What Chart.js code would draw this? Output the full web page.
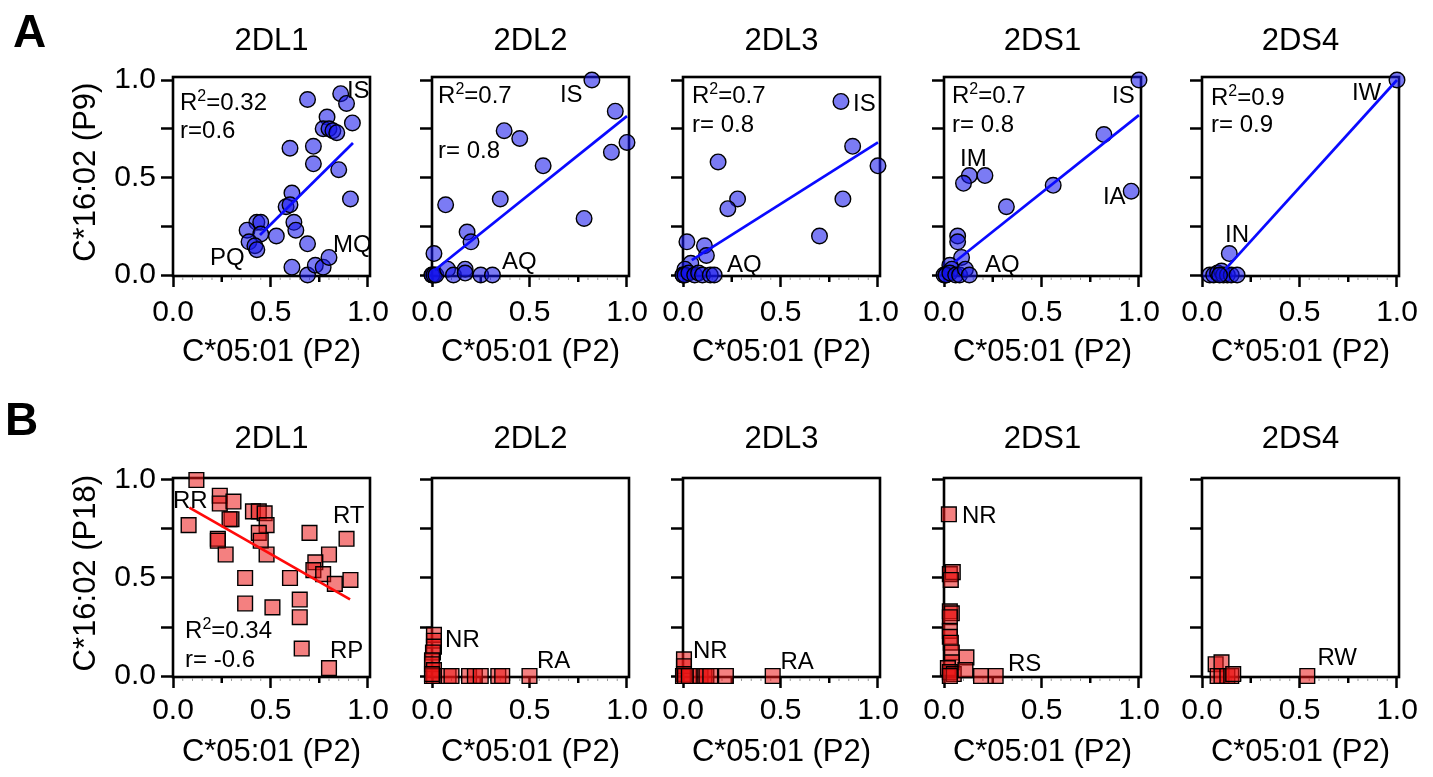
<!DOCTYPE html>
<html>
<head>
<meta charset="utf-8">
<script src="https://cdn.jsdelivr.net/npm/chart.js@4.4.1/dist/chart.umd.min.js"></script>
<style>
  html, body { margin: 0; padding: 0; background: #fff; }
  #wrap { position: relative; width: 1433px; height: 777px; overflow: hidden; background: #fff; }
  #wrap canvas { position: absolute; left: 0; top: 0; }
</style>
</head>
<body>
<div id="wrap"></div>
<script>
/* ---- data ---- */
const receptors = ["2DL1", "2DL2", "2DL3", "2DS1", "2DS4"];
const tickValues = [0, 0.25, 0.5, 0.75, 1.0];
const labeledTicks = [0, 0.5, 1.0];
const xTitle = "C*05:01 (P2)";
const yTitles = [" C*16:02 (P9)", " C*16:02 (P18)"];
const rowLetters = ["A", "B"];

// row A (P9) - blue circles
const a2DL1 = [[0.69,0.90],[0.86,0.93],[0.89,0.88],[0.92,0.78],[0.79,0.81],[0.77,0.75],[0.80,0.75],[0.82,0.74],[0.84,0.73],
  [0.60,0.65],[0.72,0.66],[0.72,0.57],[0.85,0.54],[0.91,0.39],[0.61,0.42],[0.58,0.35],[0.60,0.36],[0.62,0.27],
  [0.63,0.23],[0.53,0.20],[0.69,0.16],[0.43,0.27],[0.45,0.27],[0.38,0.23],[0.45,0.21],[0.39,0.17],[0.42,0.15],
  [0.43,0.13],[0.61,0.04],[0.69,0.00],[0.73,0.05],[0.77,0.04],[0.80,0.09]];
const a2DL2 = [[0.82,1.00],[0.94,0.84],[1.00,0.68],[0.92,0.63],[0.37,0.74],[0.45,0.70],[0.57,0.56],[0.07,0.36],
  [0.35,0.39],[0.78,0.29],[0.18,0.22],[0.20,0.17],[0.01,0.11],[0.0,0.0],[0.0,0.0],[0.01,0.0],[0.02,0.0],
  [0.08,0.03],[0.11,0.0],[0.17,0.03],[0.17,0.01],[0.25,0.0],[0.31,0.0]];
const a2DL3 = [[0.81,0.89],[0.87,0.66],[1.00,0.56],[0.82,0.39],[0.70,0.20],[0.18,0.58],[0.28,0.39],[0.23,0.34],
  [0.02,0.17],[0.11,0.15],[0.12,0.10],[0.04,0.06],[0.01,0.03],[0.0,0.0],[0.0,0.0],[0.01,0.0],[0.03,0.01],
  [0.06,0.0],[0.08,0.01],[0.10,0.0],[0.14,0.0],[0.16,0.0]];
const a2DS1 = [[1.00,1.00],[0.82,0.72],[0.96,0.43],[0.56,0.46],[0.32,0.35],[0.13,0.51],[0.21,0.51],[0.10,0.47],
  [0.07,0.20],[0.07,0.17],[0.09,0.09],[0.03,0.05],[0.04,0.03],[0.0,0.0],[0.01,0.0],[0.01,0.0],[0.03,0.01],
  [0.06,0.0],[0.08,0.0],[0.11,0.03],[0.13,0.0]];
const a2DS4 = [[1.00,1.00],[0.14,0.11],[0.04,0.0],[0.06,0.0],[0.08,0.01],[0.10,0.02],[0.11,0.0],[0.13,0.0],
  [0.15,0.0],[0.18,0.0],[0.09,0.0]];

// row B (P18) - red squares
const b2DL1 = [[0.12,1.00],[0.24,0.92],[0.24,0.88],[0.31,0.89],[0.30,0.80],[0.29,0.80],[0.08,0.77],[0.23,0.70],
  [0.23,0.69],[0.27,0.62],[0.41,0.84],[0.44,0.84],[0.47,0.83],[0.48,0.77],[0.44,0.73],[0.45,0.69],[0.48,0.62],
  [0.70,0.73],[0.89,0.70],[0.80,0.62],[0.73,0.58],[0.72,0.54],[0.77,0.52],[0.83,0.47],[0.91,0.49],[0.60,0.50],
  [0.37,0.50],[0.37,0.37],[0.51,0.35],[0.65,0.39],[0.65,0.30],[0.66,0.14],[0.80,0.04]];
const b2DL2 = [[0.01,0.21],[0.01,0.18],[0.01,0.15],[0.005,0.12],[0.0,0.08],[0.0,0.06],[0.01,0.03],[0.01,0.0],
  [0.0,0.0],[0.0,0.01],[0.085,0.0],[0.10,0.0],[0.19,0.0],[0.22,0.0],[0.25,0.0],[0.34,0.0],[0.36,0.0],[0.50,0.0]];
const b2DL3 = [[0.005,0.085],[0.005,0.05],[0.005,0.01],[0.0,0.0],[0.01,0.0],[0.03,0.0],[0.09,0.0],[0.11,0.0],
  [0.12,0.0],[0.14,0.0],[0.22,0.0],[0.46,0.0]];
const b2DS1 = [[0.025,0.825],[0.03,0.52],[0.045,0.53],[0.035,0.49],[0.03,0.33],[0.04,0.32],[0.03,0.30],[0.03,0.23],
  [0.03,0.20],[0.035,0.17],[0.04,0.12],[0.115,0.095],[0.04,0.07],[0.02,0.04],[0.03,0.02],[0.05,0.01],[0.11,0.03],
  [0.19,0.0],[0.265,0.0],[0.03,0.0]];
const b2DS4 = [[0.07,0.06],[0.10,0.07],[0.08,0.0],[0.10,0.0],[0.13,0.0],[0.15,0.0],[0.16,0.01],[0.54,0.0]];

// regression lines (end points)
const fitA = [[[0.446,0.205],[0.923,0.677]], [[0.015,0.026],[1.0,0.815]], [[0.045,0.076],[1.0,0.68]],
  [[0.056,0.068],[1.0,0.82]], [[0.12,0.03],[1.0,1.0]]];
const fitB = [[[0.084,0.859],[0.908,0.391]], null, null, null, null];

// stats text and point labels, placed in data units (left edge, baseline)
const notesA = [
  [{t:"R2=0.32",x:0.036,y:0.846},{t:"r=0.6",x:0.036,y:0.703},{t:"IS",x:0.892,y:0.908},{t:"PQ",x:0.19,y:0.05},{t:"MQ",x:0.82,y:0.118}],
  [{t:"R2=0.7",x:0.031,y:0.882},{t:"r= 0.8",x:0.031,y:0.60},{t:"IS",x:0.656,y:0.887},{t:"AQ",x:0.359,y:0.031}],
  [{t:"R2=0.7",x:0.046,y:0.882},{t:"r= 0.8",x:0.046,y:0.733},{t:"IS",x:0.872,y:0.841},{t:"AQ",x:0.226,y:0.015}],
  [{t:"R2=0.7",x:0.041,y:0.882},{t:"r= 0.8",x:0.041,y:0.733},{t:"IS",x:0.862,y:0.882},{t:"IM",x:0.082,y:0.559},{t:"IA",x:0.815,y:0.364},{t:"AQ",x:0.210,y:0.015}],
  [{t:"R2=0.9",x:0.046,y:0.872},{t:"r= 0.9",x:0.046,y:0.733},{t:"IW",x:0.769,y:0.897},{t:"IN",x:0.118,y:0.169}]
];
const notesB = [
  [{t:"RR",x:0.0,y:0.857},{t:"RT",x:0.82,y:0.781},{t:"R2=0.34",x:0.062,y:0.194},{t:"r= -0.6",x:0.062,y:0.046},{t:"RP",x:0.805,y:0.092}],
  [{t:"NR",x:0.067,y:0.148},{t:"RA",x:0.538,y:0.041}],
  [{t:"NR",x:0.051,y:0.092},{t:"RA",x:0.50,y:0.036}],
  [{t:"NR",x:0.092,y:0.781},{t:"RS",x:0.328,y:0.026}],
  [{t:"RW",x:0.592,y:0.056}]
];

/* ---- layout ---- */
const FONT = "'Liberation Sans', Arial, Helvetica, sans-serif";
const colLeft = [173, 432, 683, 944, 1202];
const plotW = 197;
const rows = [
  { top: 77, bottom: 276, boxBottom: 380, titleBase: 50, yMax: 1.0154, xPad: 8, letterX: 13, letterBase: 47,
    color: "rgba(20,20,235,0.56)", line: "#0a0aff", style: "circle", radius: 7.8,
    sets: [a2DL1, a2DL2, a2DL3, a2DS1, a2DS4], fits: fitA, notes: notesA },
  { top: 478, bottom: 677, boxBottom: 777, titleBase: 448, yMax: 1.0102, xPad: 5, letterX: 5, letterBase: 435,
    color: "rgba(235,20,20,0.54)", line: "#ff0a0a", style: "rect", radius: 10.4,
    sets: [b2DL1, b2DL2, b2DL3, b2DS1, b2DS4], fits: fitB, notes: notesB }
];

const wrap = document.getElementById("wrap");

const deco = {
    id: "deco",
    beforeDatasetsDraw(chart, args, opts) {
        const { ctx, chartArea: a, scales } = chart;
        ctx.save();
        // frame
        ctx.strokeStyle = "#000";
        ctx.lineWidth = 2.6;
        ctx.strokeRect(a.left, a.top, a.right - a.left, a.bottom - a.top);
        // tiny x ticks every 0.05
        ctx.strokeStyle = "#999";
        ctx.lineWidth = 1;
        for (let i = 1; i < 20; i++) {
            if (i % 5 === 0) continue;
            const px = scales.x.getPixelForValue(i * 0.05);
            ctx.beginPath();
            ctx.moveTo(px, a.bottom + 1);
            ctx.lineTo(px, a.bottom + 4);
            ctx.stroke();
        }
        // minor x ticks at 0.25 / 0.75
        ctx.strokeStyle = "#000";
        ctx.lineWidth = 2.5;
        [0.25, 0.75].forEach(v => {
            const px = scales.x.getPixelForValue(v);
            ctx.beginPath();
            ctx.moveTo(px, a.bottom);
            ctx.lineTo(px, a.bottom + 6);
            ctx.stroke();
        });
        ctx.restore();
    },
    afterDraw(chart, args, opts) {
        const { ctx, chartArea: a, scales } = chart;
        ctx.save();
        ctx.fillStyle = "#000";
        ctx.textBaseline = "alphabetic";
        // panel title
        ctx.font = "31px " + FONT;
        ctx.textAlign = "center";
        ctx.fillText(opts.title, (a.left + a.right) / 2, opts.titleBase);
        // row letter
        if (opts.letter) {
            ctx.font = "bold 46px " + FONT;
            ctx.textAlign = "left";
            ctx.fillText(opts.letter, opts.letterX, opts.letterBase);
        }
        // notes
        ctx.textAlign = "left";
        opts.notes.forEach(n => {
            let x = scales.x.getPixelForValue(n.x);
            const y = scales.y.getPixelForValue(n.y);
            ctx.font = "24px " + FONT;
            if (n.t.startsWith("R2")) {
                ctx.fillText("R", x, y);
                x += ctx.measureText("R").width;
                ctx.font = "16px " + FONT;
                ctx.fillText("2", x, y - 9);
                x += ctx.measureText("2").width;
                ctx.font = "24px " + FONT;
                ctx.fillText(n.t.slice(2), x, y);
            } else {
                ctx.fillText(n.t, x, y);
            }
        });
        ctx.restore();
    }
};

function makePanel(rowIdx, col) {
    const r = rows[rowIdx];
    const left = colLeft[col];
    const canvas = document.createElement("canvas");
    canvas.width = 1433;
    canvas.height = 777;
    wrap.appendChild(canvas);

    const datasets = [{
        data: r.sets[col].map(p => ({ x: p[0], y: p[1] })),
        pointStyle: r.style,
        pointRadius: r.radius,
        pointHoverRadius: r.radius,
        backgroundColor: r.color,
        borderColor: "#000",
        borderWidth: 1.4,
        clip: false,
        order: 1
    }];
    if (r.fits[col]) {
        datasets.push({
            data: r.fits[col].map(p => ({ x: p[0], y: p[1] })),
            showLine: true,
            pointRadius: 0,
            borderColor: r.line,
            borderWidth: 2.7,
            order: 0
        });
    }

    new Chart(canvas, {
        type: "scatter",
        data: { datasets },
        options: {
            responsive: false,
            animation: false,
            devicePixelRatio: 1,
            events: [],
            layout: { padding: { left: 0, top: r.top, right: 1433 - left - plotW, bottom: 777 - r.boxBottom } },
            plugins: {
                legend: { display: false },
                tooltip: { enabled: false },
                deco: {
                    title: receptors[col],
                    titleBase: r.titleBase,
                    letter: col === 0 ? rowLetters[rowIdx] : null,
                    letterX: r.letterX,
                    letterBase: r.letterBase,
                    notes: r.notes[col]
                }
            },
            scales: {
                x: {
                    type: "linear",
                    min: 0,
                    max: 1.0103,
                    afterBuildTicks: s => { s.ticks = labeledTicks.map(v => ({ value: v })); },
                    afterFit: s => { s.height = r.boxBottom - r.bottom; },
                    border: { display: false },
                    grid: { drawOnChartArea: false, drawTicks: true, tickLength: 11, tickColor: "#000", tickWidth: 2.5 },
                    ticks: { color: "#000", padding: r.xPad, maxRotation: 0, font: { family: FONT, size: 30 },
                             callback: v => v.toFixed(1) },
                    title: { display: true, text: xTitle, color: "#000", font: { family: FONT, size: 31 },
                             padding: { top: 0, bottom: rowIdx === 0 ? 9 : 6 } }
                },
                y: {
                    type: "linear",
                    min: -0.0051,
                    max: r.yMax,
                    afterBuildTicks: s => { s.ticks = tickValues.map(v => ({ value: v })); },
                    afterFit: s => { s.width = left; },
                    border: { display: false },
                    grid: { drawOnChartArea: false, drawTicks: true, tickLength: 12, tickColor: "#000", tickWidth: 2.5 },
                    ticks: { color: "#000", padding: 5, font: { family: FONT, size: 30 },
                             callback: v => (col === 0 && labeledTicks.includes(v)) ? v.toFixed(1) : "" },
                    title: { display: col === 0, text: yTitles[rowIdx], color: "#000", font: { family: FONT, size: 31 },
                             padding: { top: 68, bottom: 0 } }
                }
            }
        },
        plugins: [deco]
    });
}

rows.forEach((r, ri) => receptors.forEach((name, ci) => makePanel(ri, ci)));
</script>
</body>
</html>
